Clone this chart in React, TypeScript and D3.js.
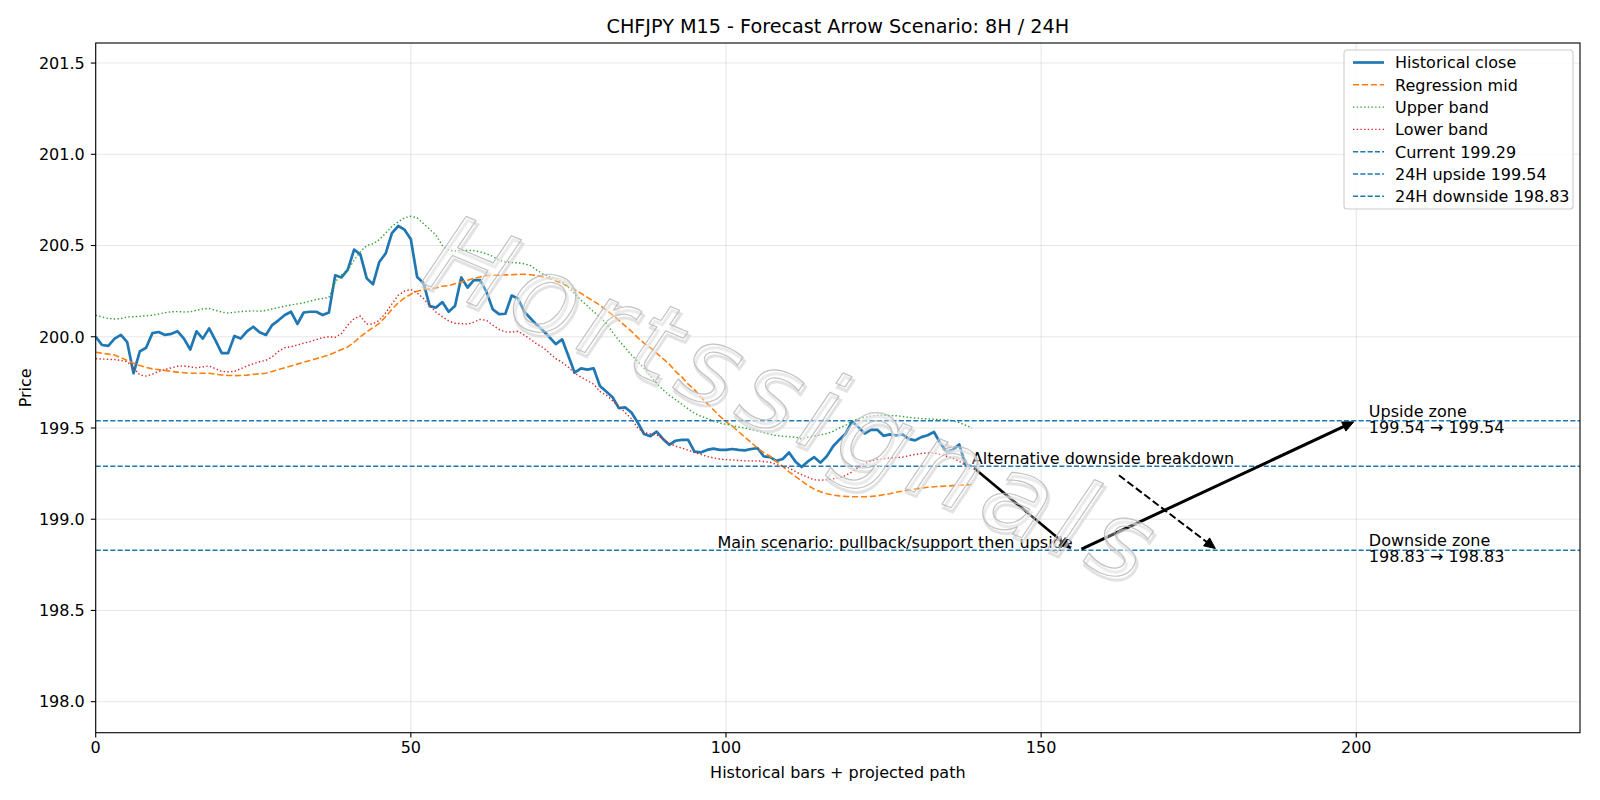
import { useEffect, useRef } from "react";
import * as d3 from "d3";

// historical closes, bars 0..139
const closeValues = [
  200.0, 199.955, 199.95, 199.99, 200.01, 199.97, 199.8, 199.92, 199.94, 200.02,
  200.026, 200.01, 200.016, 200.03, 199.99, 199.93, 200.03, 199.99, 200.046, 199.98,
  199.91, 199.91, 200.004, 199.99, 200.03, 200.055, 200.025, 200.01, 200.064, 200.09,
  200.119, 200.137, 200.07, 200.133, 200.137, 200.137, 200.119, 200.133, 200.337, 200.325,
  200.368, 200.478, 200.45, 200.32, 200.288, 200.41, 200.456, 200.568, 200.607, 200.587,
  200.534, 200.328, 200.295, 200.168, 200.16, 200.19, 200.137, 200.168, 200.325, 200.27,
  200.31, 200.31, 200.246, 200.15, 200.124, 200.126, 200.226, 200.21, 200.137, 200.1,
  200.064, 200.033, 199.997, 199.96, 199.986, 199.895, 199.803, 199.827, 199.82, 199.827,
  199.73, 199.7, 199.669, 199.609, 199.613, 199.585, 199.53, 199.467, 199.455, 199.48,
  199.44, 199.408, 199.43, 199.435, 199.435, 199.37, 199.366, 199.38, 199.387, 199.38,
  199.38, 199.385, 199.38, 199.377, 199.385, 199.39, 199.344, 199.34, 199.32, 199.33,
  199.366, 199.317, 199.286, 199.317, 199.34, 199.31, 199.345, 199.4, 199.436, 199.47,
  199.535, 199.505, 199.47, 199.49, 199.49, 199.457, 199.465, 199.46, 199.465, 199.44,
  199.432, 199.45, 199.46, 199.478, 199.417, 199.37, 199.38, 199.41, 199.3, 199.29,
];

const midValues = [
  199.915, 199.91, 199.905, 199.9, 199.885, 199.87, 199.855, 199.842, 199.832, 199.824,
  199.82, 199.815, 199.81, 199.806, 199.803, 199.8, 199.8, 199.8, 199.8, 199.795,
  199.79, 199.788, 199.787, 199.788, 199.79, 199.794, 199.797, 199.8, 199.81, 199.82,
  199.83, 199.84, 199.85, 199.86, 199.87, 199.88, 199.89, 199.9, 199.915, 199.93,
  199.945, 199.97, 200.0, 200.027, 200.05, 200.073, 200.11, 200.15, 200.186, 200.213,
  200.233, 200.25, 200.258, 200.262, 200.268, 200.277, 200.28, 200.29, 200.3, 200.31,
  200.32, 200.328, 200.335, 200.337, 200.338, 200.339, 200.34, 200.342, 200.343, 200.34,
  200.335, 200.328, 200.32, 200.306, 200.292, 200.276, 200.259, 200.238, 200.216, 200.195,
  200.173, 200.146, 200.12, 200.09, 200.06, 200.03, 199.995, 199.965, 199.94, 199.91,
  199.88, 199.85, 199.81, 199.78, 199.74, 199.71, 199.67, 199.635, 199.6, 199.565,
  199.535, 199.51, 199.48, 199.45, 199.42, 199.39, 199.365, 199.345, 199.315, 199.29,
  199.26, 199.235, 199.21, 199.185, 199.165, 199.15, 199.14, 199.132, 199.128, 199.125,
  199.123, 199.123, 199.123, 199.125, 199.128, 199.134, 199.14, 199.148, 199.154, 199.16,
  199.166, 199.17, 199.175, 199.178, 199.18, 199.182, 199.184, 199.186, 199.188, 199.19,
];

const upperValues = [
  200.118, 200.108, 200.1, 200.097, 200.1, 200.108, 200.11, 200.112, 200.115, 200.118,
  200.125, 200.132, 200.137, 200.138, 200.136, 200.137, 200.145, 200.152, 200.155, 200.145,
  200.135, 200.13, 200.134, 200.138, 200.14, 200.142, 200.14, 200.144, 200.152, 200.16,
  200.168, 200.175, 200.18, 200.186, 200.195, 200.204, 200.21, 200.215, 200.3, 200.34,
  200.364, 200.42, 200.465, 200.5, 200.51, 200.532, 200.568, 200.605, 200.63, 200.652,
  200.66, 200.652, 200.62, 200.59, 200.556, 200.5, 200.474, 200.47, 200.473, 200.474,
  200.472, 200.465, 200.455, 200.44, 200.42, 200.41, 200.407, 200.405, 200.4, 200.39,
  200.365, 200.343, 200.33, 200.32, 200.3, 200.27, 200.236, 200.2, 200.17, 200.137,
  200.11, 200.073, 200.025, 199.98, 199.94, 199.9, 199.865, 199.827, 199.785, 199.745,
  199.71, 199.68, 199.655, 199.63, 199.605, 199.58, 199.565, 199.552, 199.54, 199.527,
  199.52, 199.513, 199.505, 199.5, 199.492, 199.484, 199.475, 199.466, 199.458, 199.455,
  199.452, 199.45, 199.44, 199.45, 199.456, 199.462, 199.47, 199.482, 199.5, 199.515,
  199.538, 199.55, 199.558, 199.565, 199.57, 199.57, 199.568, 199.567, 199.563, 199.558,
  199.555, 199.552, 199.55, 199.548, 199.546, 199.545, 199.54, 199.53, 199.515, 199.5,
];

const lowerValues = [
  199.88, 199.878, 199.876, 199.875, 199.87, 199.863, 199.83, 199.79, 199.785, 199.795,
  199.81, 199.82, 199.83, 199.838, 199.84, 199.835, 199.83, 199.835, 199.84, 199.825,
  199.81, 199.808, 199.81, 199.825, 199.84, 199.852, 199.863, 199.87, 199.89, 199.92,
  199.94, 199.945, 199.955, 199.965, 199.973, 199.985, 199.995, 200.0, 199.997, 200.018,
  200.064, 200.1, 200.113, 200.07, 200.07, 200.09, 200.13, 200.18, 200.228, 200.25,
  200.259, 200.24, 200.21, 200.17, 200.135, 200.11, 200.087, 200.074, 200.072, 200.07,
  200.08, 200.095, 200.09, 200.064, 200.04, 200.027, 200.026, 200.03, 200.009, 199.986,
  199.96, 199.94, 199.91, 199.88, 199.86, 199.833, 199.8, 199.778, 199.76, 199.74,
  199.7, 199.68, 199.65, 199.62, 199.585, 199.55, 199.5, 199.475, 199.468, 199.463,
  199.44, 199.417, 199.4, 199.39, 199.378, 199.366, 199.355, 199.344, 199.336, 199.33,
  199.327, 199.325, 199.322, 199.32, 199.32, 199.32, 199.316, 199.312, 199.3, 199.29,
  199.281, 199.262, 199.244, 199.23, 199.216, 199.214, 199.216, 199.222, 199.228, 199.24,
  199.26, 199.285, 199.305, 199.318, 199.327, 199.332, 199.336, 199.338, 199.34, 199.348,
  199.355, 199.36, 199.363, 199.364, 199.355, 199.345, 199.335, 199.318, 199.295, 199.27,
];

// current, 24H upside, 24H downside
const levelValues = [199.29, 199.54, 198.83];
const levelNames = ["Current", "24H upside", "24H downside"];

// projected arrows: main leg 1, main leg 2, alternative
const arrowFrom = [[139, 199.29], [156, 198.83], [162, 199.25]];
const arrowTo = [[155, 198.83], [200, 199.54], [178, 198.83]];

const xTicks = [0, 50, 100, 150, 200];
const yTicks = [198.0, 198.5, 199.0, 199.5, 200.0, 200.5, 201.0, 201.5];
const seriesLabels = ["Historical close", "Regression mid", "Upper band", "Lower band"];

const FONT = "DejaVu Sans, sans-serif";
const FS = 16;

export default function App() {
  const ref = useRef<SVGSVGElement>(null);

  useEffect(() => {
    document.body.style.margin = "0";
    if (!ref.current) return;
    const width = 1600;
    const height = 800;
    const svg = d3.select(ref.current);
    svg.selectAll("*").remove();

    const left = 95.7, right = 1580, top = 43, bottom = 732.7;

    const x = d3.scaleLinear().domain([0, 235.5]).range([left, right]);
    const y = d3.scaleLinear().domain([197.83, 201.61]).range([bottom, top]);

    svg.append("rect").attr("width", width).attr("height", height).attr("fill", "#fff");

    const clip = svg.append("defs").append("clipPath").attr("id", "plotclip");
    clip.append("rect").attr("x", left).attr("y", top).attr("width", right - left).attr("height", bottom - top);

    // grid
    const grid = svg.append("g");
    grid.selectAll("line.gx").data(xTicks).join("line")
      .attr("x1", (d) => x(d)).attr("x2", (d) => x(d))
      .attr("y1", top).attr("y2", bottom)
      .attr("stroke", "#b0b0b0").attr("stroke-opacity", 0.3).attr("stroke-width", 1.1);
    grid.selectAll("line.gy").data(yTicks).join("line")
      .attr("x1", left).attr("x2", right)
      .attr("y1", (d) => y(d)).attr("y2", (d) => y(d))
      .attr("stroke", "#b0b0b0").attr("stroke-opacity", 0.3).attr("stroke-width", 1.1);

    const plot = svg.append("g").attr("clip-path", "url(#plotclip)");
    const line = d3.line<number>().x((_, i) => x(i)).y((d) => y(d));

    plot.append("path").datum(closeValues).attr("d", line)
      .attr("fill", "none").attr("stroke", "#1f77b4").attr("stroke-width", 2.7)
      .attr("stroke-linejoin", "round");
    plot.append("path").datum(midValues).attr("d", line)
      .attr("fill", "none").attr("stroke", "#ff7f0e").attr("stroke-width", 1.6)
      .attr("stroke-dasharray", "6.2,2.7");
    plot.append("path").datum(upperValues).attr("d", line)
      .attr("fill", "none").attr("stroke", "#2ca02c").attr("stroke-width", 1.4)
      .attr("stroke-dasharray", "1.4,2.3");
    plot.append("path").datum(lowerValues).attr("d", line)
      .attr("fill", "none").attr("stroke", "#d62728").attr("stroke-width", 1.4)
      .attr("stroke-dasharray", "1.4,2.3");

    plot.selectAll("line.level").data(levelValues).join("line")
      .attr("x1", left).attr("x2", right)
      .attr("y1", (d) => y(d)).attr("y2", (d) => y(d))
      .attr("stroke", "#1f77b4").attr("stroke-width", 1.4)
      .attr("stroke-dasharray", "5.1,2.2");

    // arrows
    const arrowWidths = [2.6, 3.0, 2.0];
    arrowFrom.forEach((from, i) => {
      const x0 = x(from[0]), y0 = y(from[1]);
      const x1 = x(arrowTo[i][0]), y1 = y(arrowTo[i][1]);
      const ang = Math.atan2(y1 - y0, x1 - x0);
      const sx = x0 + Math.cos(ang) * 2.8, sy = y0 + Math.sin(ang) * 2.8;
      const ex = x1 - Math.cos(ang) * 2.8, ey = y1 - Math.sin(ang) * 2.8;
      plot.append("line")
        .attr("x1", sx).attr("y1", sy).attr("x2", ex - Math.cos(ang) * 3).attr("y2", ey - Math.sin(ang) * 3)
        .attr("stroke", "#000").attr("stroke-width", arrowWidths[i])
        .attr("stroke-dasharray", i === 2 ? "7.4,3.2" : null);
      const hl = 11, hw = 5;
      const bx = ex - Math.cos(ang) * hl, by = ey - Math.sin(ang) * hl;
      const px = -Math.sin(ang) * hw, py = Math.cos(ang) * hw;
      plot.append("path")
        .attr("d", `M${bx + px},${by + py}L${ex},${ey}L${bx - px},${by - py}Z`)
        .attr("fill", "#000").attr("stroke", "#000").attr("stroke-width", 1)
        .attr("stroke-linejoin", "miter");
    });

    // annotations
    const ann = svg.append("g").attr("font-family", FONT).attr("font-size", FS).attr("fill", "#000");
    ann.append("text").attr("x", x(arrowFrom[0][0])).attr("y", y(levelValues[0]) - 2)
      .text("Alternative downside breakdown");
    ann.append("text").attr("x", x(arrowTo[0][0])).attr("y", y(levelValues[2]) - 2)
      .attr("text-anchor", "end")
      .text("Main scenario: pullback/support then upside");
    const zones = [["Upside zone", levelValues[1]], ["Downside zone", levelValues[2]]] as const;
    zones.forEach(([name, v]) => {
      const t = ann.append("text").attr("x", x(202)).attr("y", y(v) - 4);
      t.append("tspan").attr("x", x(202)).text(name);
      t.append("tspan").attr("x", x(202)).attr("dy", 16)
        .text(`${v.toFixed(2)} \u2192 ${v.toFixed(2)}`);
    });

    // watermark
    const wm = svg.append("g")
      .attr("transform", `translate(792,408) rotate(23)`)
      .attr("font-family", FONT).attr("font-style", "italic").attr("font-size", 108)
      .attr("letter-spacing", 10)
      .attr("text-anchor", "middle").attr("dominant-baseline", "middle");
    wm.append("text").attr("x", 3).attr("y", 3).text("Hortssignals")
      .attr("fill", "none").attr("stroke", "#d6d6d6").attr("stroke-width", 3).attr("stroke-opacity", 0.7);
    wm.append("text").text("Hortssignals")
      .attr("fill", "#fff").attr("fill-opacity", 0.3)
      .attr("stroke", "#b8b8b8").attr("stroke-width", 1.2).attr("stroke-opacity", 0.85);

    // axes frame
    svg.append("rect").attr("x", left).attr("y", top)
      .attr("width", right - left).attr("height", bottom - top)
      .attr("fill", "none").attr("stroke", "#000").attr("stroke-width", 1.1);

    const ticks = svg.append("g").attr("font-family", FONT).attr("font-size", FS);
    xTicks.forEach((t) => {
      ticks.append("line").attr("x1", x(t)).attr("x2", x(t))
        .attr("y1", bottom).attr("y2", bottom + 4.9).attr("stroke", "#000").attr("stroke-width", 1.1);
      ticks.append("text").attr("x", x(t)).attr("y", bottom + 20.5)
        .attr("text-anchor", "middle").text(String(t));
    });
    yTicks.forEach((t) => {
      ticks.append("line").attr("x1", left - 4.9).attr("x2", left)
        .attr("y1", y(t)).attr("y2", y(t)).attr("stroke", "#000").attr("stroke-width", 1.1);
      ticks.append("text").attr("x", left - 11).attr("y", y(t) + 5.8)
        .attr("text-anchor", "end").text(t.toFixed(1));
    });

    svg.append("text").attr("x", (left + right) / 2).attr("y", 777.5)
      .attr("text-anchor", "middle").attr("font-family", FONT).attr("font-size", FS)
      .text("Historical bars + projected path");
    svg.append("text").attr("transform", `translate(31,${(top + bottom) / 2}) rotate(-90)`)
      .attr("text-anchor", "middle").attr("font-family", FONT).attr("font-size", FS)
      .text("Price");
    svg.append("text").attr("x", (left + right) / 2).attr("y", 32.5)
      .attr("text-anchor", "middle").attr("font-family", FONT).attr("font-size", 19.2)
      .text("CHFJPY M15 - Forecast Arrow Scenario: 8H / 24H");

    // legend
    const legendLabels = [
      ...seriesLabels,
      ...levelValues.map((v, i) => `${levelNames[i]} ${v.toFixed(2)}`),
    ];
    const legendStyles = [
      { c: "#1f77b4", w: 2.7, dash: null },
      { c: "#ff7f0e", w: 1.6, dash: "6.2,2.7" },
      { c: "#2ca02c", w: 1.4, dash: "1.4,2.3" },
      { c: "#d62728", w: 1.4, dash: "1.4,2.3" },
      { c: "#1f77b4", w: 1.4, dash: "5.1,2.2" },
      { c: "#1f77b4", w: 1.4, dash: "5.1,2.2" },
      { c: "#1f77b4", w: 1.4, dash: "5.1,2.2" },
    ];
    const lg = svg.append("g");
    const lx = 1344, ly = 50, lw = 229, lh = 159;
    lg.append("rect").attr("x", lx).attr("y", ly).attr("width", lw).attr("height", lh)
      .attr("rx", 3).attr("fill", "#fff").attr("fill-opacity", 0.8)
      .attr("stroke", "#cccccc").attr("stroke-width", 1.1);
    legendLabels.forEach((label, i) => {
      const cy = ly + 12.5 + i * 22.3;
      const s = legendStyles[i];
      lg.append("line").attr("x1", lx + 9).attr("x2", lx + 40)
        .attr("y1", cy).attr("y2", cy)
        .attr("stroke", s.c).attr("stroke-width", s.w).attr("stroke-dasharray", s.dash);
      lg.append("text").attr("x", lx + 51).attr("y", cy + 5.8)
        .attr("font-family", FONT).attr("font-size", FS).text(label);
    });
  }, []);

  return <svg ref={ref} width={1600} height={800} style={{ display: "block" }}></svg>;
}
